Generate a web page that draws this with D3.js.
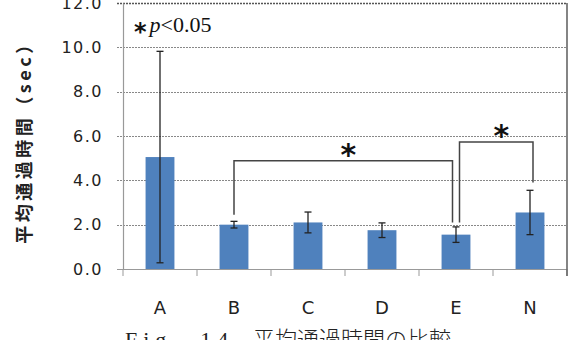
<!DOCTYPE html>
<html>
<head>
<meta charset="utf-8">
<script src="https://cdn.jsdelivr.net/npm/d3@7"></script>
<style>
  body { margin: 0; background: #fff; }
  svg { display: block; }
</style>
</head>
<body>
<svg id="main"></svg>
<script>
// data
let categories = ['A', 'B', 'C', 'D', 'E', 'N']
let means = [5.05, 2.0, 2.1, 1.75, 1.55, 2.55]
let errors = [4.77, 0.15, 0.47, 0.33, 0.35, 1.0]
let yTicks = [0, 2, 4, 6, 8, 10, 12]
// significance pairs: [from, to, bracket height, leg bottom from, leg bottom to]
let sigPairs = [
    ['B', 'E', 4.88, 2.45, 2.1],
    ['E', 'N', 5.73, 2.1, 3.9]
]

let width = 573
let height = 340
let plotLeft = 123
let plotRight = 567
let plotTop = 3
let plotBottom = 269

let svg = d3.select('#main')
    .attr('width', width)
    .attr('height', height)

let xScale = d3.scaleBand()
    .domain(categories)
    .range([plotLeft, plotRight])

let yScale = d3.scaleLinear()
    .domain([0, 12])
    .range([plotBottom, plotTop])

// grid lines
svg.append('g')
    .selectAll('line')
    .data(yTicks)
    .enter()
    .append('line')
    .attr('x1', plotLeft - 6)
    .attr('x2', plotRight)
    .attr('y1', d => Math.round(yScale(d)) + 0.5)
    .attr('y2', d => Math.round(yScale(d)) + 0.5)
    .attr('stroke', d => d == 0 ? '#999' : (d == 12 ? '#555' : '#888'))
    .attr('stroke-dasharray', d => d == 0 ? null : '2,1')
    .attr('stroke-width', d => d == 12 ? 1.5 : 1)

// y axis
let yAxis = d3.axisLeft(yScale)
    .tickValues(yTicks)
    .tickFormat(d3.format('.1f'))
    .tickSize(0)
    .tickPadding(20)
let yg = svg.append('g')
    .attr('transform', `translate(${plotLeft}, 0)`)
    .call(yAxis)
yg.select('.domain').attr('stroke', '#999').attr('stroke-width', 1.2)
yg.selectAll('text')
    .attr('font-family', 'DejaVu Sans')
    .attr('font-size', 16)
    .attr('letter-spacing', 1.5)
    .attr('fill', '#222')

// x axis
let xAxis = d3.axisBottom(xScale)
    .tickSize(0)
    .tickPadding(32)
let xg = svg.append('g')
    .attr('transform', `translate(0, ${plotBottom})`)
    .call(xAxis)
xg.select('.domain').remove()
xg.selectAll('text')
    .attr('font-family', 'DejaVu Sans')
    .attr('font-size', 18)
    .attr('fill', '#222')
// category boundary ticks
xg.selectAll('.sep')
    .data(categories.concat(['end']))
    .enter()
    .append('line')
    .attr('x1', (d, i) => plotLeft + i * xScale.bandwidth())
    .attr('x2', (d, i) => plotLeft + i * xScale.bandwidth())
    .attr('y1', 0)
    .attr('y2', 7)
    .attr('stroke', '#999')

// right border
svg.append('line')
    .attr('x1', plotRight).attr('x2', plotRight)
    .attr('y1', plotTop).attr('y2', plotBottom + 7)
    .attr('stroke', '#666')
    .attr('stroke-width', 1.6)

// bars
let barW = xScale.bandwidth() * 0.39
svg.selectAll('.bar')
    .data(means)
    .enter()
    .append('rect')
    .attr('class', 'bar')
    .attr('x', (d, i) => xScale(categories[i]) + xScale.bandwidth() / 2 - barW / 2)
    .attr('y', d => yScale(d))
    .attr('width', barW)
    .attr('height', d => yScale(0) - yScale(d))
    .attr('fill', '#4f81bd')

// error bars
let eb = svg.selectAll('.err')
    .data(means)
    .enter()
    .append('g')
    .attr('stroke', '#222')
    .attr('stroke-width', 1.3)
eb.append('line')
    .attr('x1', (d, i) => xScale(categories[i]) + xScale.bandwidth() / 2)
    .attr('x2', (d, i) => xScale(categories[i]) + xScale.bandwidth() / 2)
    .attr('y1', (d, i) => yScale(d + errors[i]))
    .attr('y2', (d, i) => yScale(d - errors[i]))
;[1, -1].forEach(s => {
    eb.append('line')
        .attr('x1', (d, i) => xScale(categories[i]) + xScale.bandwidth() / 2 - 3.5)
        .attr('x2', (d, i) => xScale(categories[i]) + xScale.bandwidth() / 2 + 3.5)
        .attr('y1', (d, i) => yScale(d + s * errors[i]))
        .attr('y2', (d, i) => yScale(d + s * errors[i]))
})

// significance brackets
sigPairs.forEach((p, k) => {
    let off1 = k == 0 ? 0 : 3.5
    let off2 = k == 0 ? -3.5 : 3
    let x1 = xScale(p[0]) + xScale.bandwidth() / 2 + off1
    let x2 = xScale(p[1]) + xScale.bandwidth() / 2 + off2
    let yTop = yScale(p[2])
    svg.append('path')
        .attr('d', `M${x1},${yScale(p[3])}V${yTop}H${x2}V${yScale(p[4])}`)
        .attr('fill', 'none')
        .attr('stroke', '#444')
        .attr('stroke-width', 1.5)
    svg.append('text')
        .attr('x', (x1 + x2) / 2 + 5)
        .attr('y', yTop)
        .attr('dy', 4)
        .attr('text-anchor', 'middle')
        .attr('font-family', 'DejaVu Sans')
        .attr('font-weight', 'bold')
        .attr('font-size', 30)
        .attr('fill', '#111')
        .text('*')
})

// legend note
let note = svg.append('text')
    .attr('x', 134)
    .attr('y', 32)
    .attr('font-family', 'Liberation Serif')
    .attr('font-size', 22)
    .attr('fill', '#111')
note.append('tspan')
    .attr('font-family', 'DejaVu Sans')
    .attr('font-weight', 'bold')
    .attr('font-size', 24)
    .attr('dy', 8)
    .text('*')
note.append('tspan')
    .attr('dy', -8)
    .attr('dx', 3)
    .attr('font-style', 'italic')
    .text('p')
note.append('tspan')
    .text('<0.05')

// y title
svg.append('text')
    .attr('transform', `translate(31, 138) rotate(-90)`)
    .attr('text-anchor', 'middle')
    .attr('font-family', 'Noto Sans CJK JP')
    .attr('font-weight', 'bold')
    .attr('font-size', 18)
    .attr('letter-spacing', 3.5)
    .attr('fill', '#222')
    .text('平均通過時間（sec）')

// caption (cut off at the bottom edge, as in the source)
let cap = svg.append('text')
    .attr('x', 125)
    .attr('y', 347)
    .attr('font-size', 22)
    .attr('fill', '#222')
cap.append('tspan')
    .attr('font-family', 'Liberation Serif')
    .attr('letter-spacing', 6)
    .text('Fig．14')
cap.append('tspan')
    .attr('x', 253)
    .attr('font-family', 'Noto Sans CJK JP')
    .attr('font-weight', 300)
    .text('平均通過時間の比較')
</script>
</body>
</html>
